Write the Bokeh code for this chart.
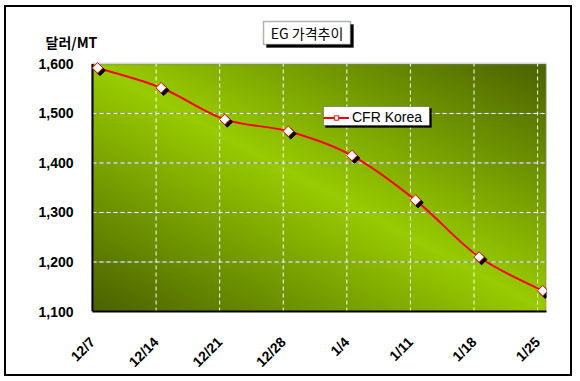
import numpy as np
from bokeh.plotting import figure
from bokeh.models import (Range1d, FixedTicker, NumeralTickFormatter, BoxAnnotation,
                          Label, Legend, LegendItem, ColumnDataSource)
from bokeh.transform import dodge
from bokeh.embed import file_html
from bokeh.resources import INLINE

# ---------------- data ----------------
dates = ["12/7", "12/14", "12/21", "12/28", "1/4", "1/11", "1/18", "1/25"]
cfr_korea = [1592, 1552, 1488, 1464, 1415, 1325, 1210, 1142]
y_ticks = [1100, 1200, 1300, 1400, 1500, 1600]
title_text = "EG 가격추이"
unit_text = "달러/MT"
series_name = "CFR Korea"

# ---------------- layout / style ----------------
POINT_SHIFT = 0.08
X_MAX = 7.14
Y_MIN, Y_MAX = 1100, 1600
CANVAS_X, CANVAS_Y = 6, 7            # page position of the canvas (margin + border)
W, H = 568, 371
FRAME_L, FRAME_T, FRAME_R, FRAME_B = 30, 10, 546, 314   # page px
PLOT_L, PLOT_T = 92, 64                                  # plot area top-left (page px)
px_per_x = (FRAME_R - PLOT_L) / X_MAX
px_per_y = (FRAME_B - PLOT_T) / (Y_MAX - Y_MIN)
X_START = -(PLOT_L - FRAME_L) / px_per_x
Y_END = Y_MAX + (PLOT_T - FRAME_T) / px_per_y
BRIGHT = np.array([153, 204, 0], dtype=float)
DARK = np.array([74, 99, 0], dtype=float)


def fx(page_x):
    return page_x - FRAME_L


def fy(page_y):
    return FRAME_B - page_y


p = figure(width=W, height=H, output_backend="svg", toolbar_location=None, title=None,
           x_range=Range1d(X_START, X_MAX), y_range=Range1d(Y_MIN, Y_END),
           min_border_left=FRAME_L - CANVAS_X, min_border_top=FRAME_T - CANVAS_Y,
           min_border_right=CANVAS_X + W - FRAME_R, min_border_bottom=CANVAS_Y + H - FRAME_B,
           styles={"border": "2px solid black", "margin": "5px 0px 0px 4px"})
p.background_fill_color = "white"
p.border_fill_color = "white"
p.outline_line_color = None
p.xgrid.visible = False
p.ygrid.visible = False

# gradient background of the plot area
N, M = 120, 240
u = np.linspace(0, 1, M)[None, :]
v = 1 - np.linspace(0, 1, N)[:, None]   # 0 at top
d = np.abs(u - v)
img = np.empty((N, M), dtype=np.uint32)
view = img.view(dtype=np.uint8).reshape((N, M, 4))
for k in range(3):
    view[:, :, k] = (BRIGHT[k] * (1 - d) + DARK[k] * d).astype(np.uint8)
view[:, :, 3] = 255
p.image_rgba(image=[img], x=0, y=Y_MIN, dw=X_MAX, dh=Y_MAX - Y_MIN, level="image")

# plot-area border (gray), drawn under the data
p.add_layout(BoxAnnotation(left=0, right=X_MAX, bottom=Y_MIN, top=Y_MAX, fill_alpha=0,
                           line_color="#808080", line_width=3, level="underlay"))

# axes
x_ticks = list(range(len(dates)))
xs = [i + POINT_SHIFT for i in x_ticks]
p.xaxis.ticker = FixedTicker(ticks=x_ticks)
p.xaxis.major_label_overrides = {i: lab for i, lab in enumerate(dates)}
p.xaxis.major_label_orientation = np.pi / 4
p.xaxis.bounds = (0, X_MAX)
p.yaxis.ticker = FixedTicker(ticks=y_ticks)
p.yaxis.formatter = NumeralTickFormatter(format="0,0")
p.yaxis.bounds = (Y_MIN, Y_MAX)
for ax in (p.xaxis, p.yaxis):
    ax.axis_line_color = "black"
    ax.axis_line_width = 2
    ax.major_tick_out = 0
    ax.major_tick_in = 0
    ax.minor_tick_out = 0
    ax.minor_tick_in = 0
    ax.major_label_text_font = "Liberation Sans"
    ax.major_label_text_font_style = "bold"
    ax.major_label_text_font_size = "14px"
    ax.major_label_text_color = "black"
p.yaxis.axis_line_color = None
p.yaxis.major_label_standoff = -(73 - FRAME_L)
p.xaxis.major_label_standoff = 28

# grid lines inside the plot area
inner_y = y_ticks[1:-1]
p.segment(x0=[0] * len(inner_y), x1=[X_MAX] * len(inner_y), y0=inner_y, y1=inner_y,
          line_color="#808080", line_width=1)
p.segment(x0=[0] * len(inner_y), x1=[X_MAX] * len(inner_y), y0=inner_y, y1=inner_y,
          line_color="white", line_width=1, line_dash="4 3")
inner_x = x_ticks[1:]
p.segment(x0=inner_x, x1=inner_x, y0=[Y_MIN] * len(inner_x), y1=[Y_MAX] * len(inner_x),
          line_color="white", line_width=1, line_dash="4 3")
# left edge of the plot area (value axis line)
p.segment(x0=[x_ticks[0]], x1=[x_ticks[0]], y0=[Y_MIN], y1=[Y_MAX],
          line_color="black", line_width=2)

# smoothed curve via bezier segments
px, py = xs, cfr_korea
n = len(px)
x0, y0, x1, y1, cx0, cy0, cx1, cy1 = [], [], [], [], [], [], [], []
for i in range(n - 1):
    pm = max(i - 1, 0)
    pp = min(i + 2, n - 1)
    x0.append(px[i]); y0.append(py[i])
    x1.append(px[i + 1]); y1.append(py[i + 1])
    cx0.append(px[i] + (px[i + 1] - px[pm]) / 6)
    cy0.append(py[i] + (py[i + 1] - py[pm]) / 6)
    cx1.append(px[i + 1] - (px[pp] - px[i]) / 6)
    cy1.append(py[i + 1] - (py[pp] - py[i]) / 6)
bsrc = ColumnDataSource(dict(x0=x0, y0=y0, x1=x1, y1=y1, cx0=cx0, cy0=cy0, cx1=cx1, cy1=cy1))
curve_r = p.bezier(x0="x0", y0="y0", x1="x1", y1="y1", cx0="cx0", cy0="cy0",
                   cx1="cx1", cy1="cy1", source=bsrc, line_color="red", line_width=2)

src = ColumnDataSource(dict(x=xs, y=cfr_korea))
p.scatter(x=dodge("x", 2.5 / px_per_x, range=p.x_range),
          y=dodge("y", -2.5 / px_per_y, range=p.y_range),
          source=src, marker="square", angle=np.pi / 4, size=7.5,
          fill_color="black", line_color="black")
marker_r = p.scatter(x="x", y="y", source=src, marker="square", angle=np.pi / 4, size=7.5,
                     fill_color="white", line_color="red", line_width=1)


def sbox(l, r, t, b, **kw):
    # page-pixel box -> frame screen units
    return BoxAnnotation(left=fx(l), right=fx(r), top=fy(t), bottom=fy(b),
                         left_units="screen", right_units="screen",
                         top_units="screen", bottom_units="screen", **kw)


# title box with shadow
p.add_layout(sbox(266, 353, 27, 50, fill_color="black", fill_alpha=1, line_color="black"))
p.add_layout(sbox(263, 350, 24, 47, fill_color="white", fill_alpha=1,
                  line_color="black", line_width=1.5))
p.add_layout(Label(x=fx(306.5), y=fy(35.5), x_units="screen", y_units="screen",
                   text=title_text, text_align="center", text_baseline="middle",
                   text_font="Noto Sans CJK KR", text_font_style="normal",
                   text_font_size="14px", text_color="black"))

# unit label
p.add_layout(Label(x=fx(45), y=fy(44), x_units="screen", y_units="screen",
                   text=unit_text, text_align="left", text_baseline="middle",
                   text_font="Noto Sans CJK KR", text_font_style="bold",
                   text_font_size="14px", text_color="black"))

# legend box with shadow
p.add_layout(sbox(325, 431, 111, 130, fill_color="black", fill_alpha=1, line_color="black"))
p.add_layout(sbox(323, 429, 109, 128, fill_color="white", fill_alpha=1,
                  line_color="black", line_width=1))
legend = Legend(items=[LegendItem(label=series_name, renderers=[curve_r, marker_r])],
                location=(fx(323), fy(128)), border_line_color=None, background_fill_alpha=0,
                padding=4, margin=0, glyph_width=26, glyph_height=11, label_height=11,
                label_standoff=3, spacing=0,
                label_text_font="Liberation Sans", label_text_font_size="14px",
                label_text_color="black")
p.add_layout(legend)

open("out.html", "w").write(file_html(p, INLINE))
